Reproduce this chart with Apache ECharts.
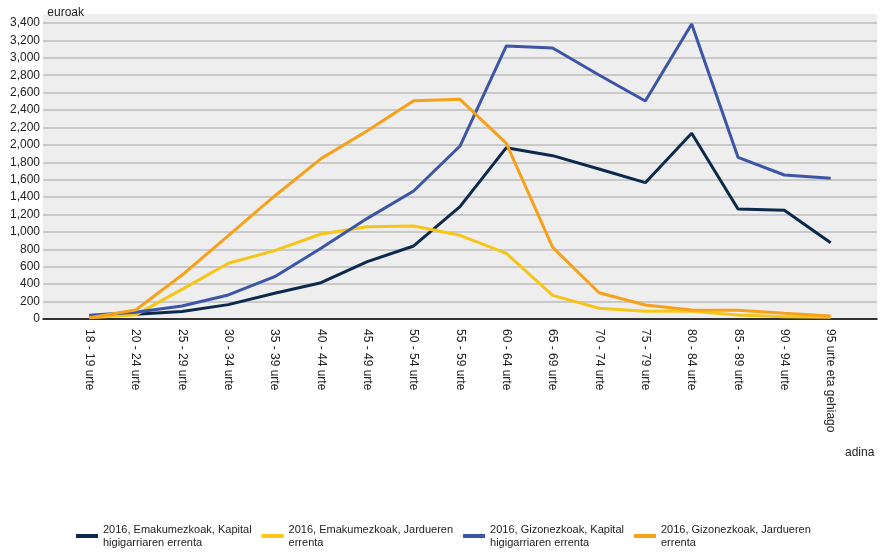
<!DOCTYPE html>
<html>
<head>
<meta charset="utf-8">
<script src="https://cdn.jsdelivr.net/npm/echarts@6/dist/echarts.min.js"></script>
<style>
  html, body { margin: 0; padding: 0; background: #fff; }
  #chart { width: 887px; height: 553px; }
</style>
</head>
<body>
<div id="chart"></div>
<script>
// adin taldeak
const categories = [
  '18 - 19 urte', '20 - 24 urte', '25 - 29 urte', '30 - 34 urte', '35 - 39 urte',
  '40 - 44 urte', '45 - 49 urte', '50 - 54 urte', '55 - 59 urte', '60 - 64 urte',
  '65 - 69 urte', '70 - 74 urte', '75 - 79 urte', '80 - 84 urte', '85 - 89 urte',
  '90 - 94 urte', '95 urte eta gehiago'
]

const seriesNames = [
  '2016, Emakumezkoak, Kapital\nhigigarriaren errenta',
  '2016, Emakumezkoak, Jardueren\nerrenta',
  '2016, Gizonezkoak, Kapital\nhigigarriaren errenta',
  '2016, Gizonezkoak, Jardueren\nerrenta'
]

const emakumeKapital = [30, 55, 85, 165, 295, 417, 659, 839, 1290, 1968, 1876, 1723, 1566, 2133, 1264, 1248, 877]
const emakumeJarduera = [15, 48, 340, 640, 785, 976, 1060, 1068, 961, 754, 272, 123, 88, 88, 46, 27, 19]
const gizonKapital = [42, 77, 149, 276, 486, 812, 1156, 1470, 1987, 3136, 3113, 2803, 2504, 3389, 1857, 1654, 1616]
const gizonJarduera = [15, 103, 505, 957, 1413, 1842, 2163, 2508, 2523, 2018, 823, 302, 161, 103, 100, 65, 34]

const colors = ['#0d2a4d', '#f5c518', '#3c56a5', '#f7a11a']

const yTicks = { min: 0, max: 3400, interval: 200 }

const font = 'Liberation Sans, Arial, sans-serif'

function toPoints(values) {
  return values.map((v, i) => [i, v])
}

const chart = echarts.init(document.getElementById('chart'), null, { renderer: 'canvas' })

const allValues = [emakumeKapital, emakumeJarduera, gizonKapital, gizonJarduera]

chart.setOption({
  animation: false,
  color: colors,
  textStyle: { fontFamily: font },
  graphic: [
    {
      type: 'rect',
      z: -10,
      shape: { x: 43, y: 14, width: 834, height: 305 },
      style: { fill: '#eeeeee' }
    },
    {
      type: 'text',
      left: 845,
      top: 447,
      style: { text: 'adina', fontSize: 12, fontFamily: font, fill: '#222' }
    }
  ],
  grid: { left: 43, right: 10, top: 23, bottom: 234 },
  legend: {
    left: 71,
    top: 518,
    itemWidth: 22,
    itemHeight: 4,
    itemGap: 10,
    icon: 'rect',
    textStyle: { fontSize: 11, lineHeight: 13, color: '#222', fontFamily: font },
    data: seriesNames
  },
  xAxis: {
    type: 'value',
    min: -1,
    max: categories.length,
    interval: 1,
    axisLine: { show: true, onZero: false, lineStyle: { color: '#000', width: 1.5 } },
    axisTick: { show: false },
    splitLine: { show: false },
    axisLabel: {
      rotate: -90,
      margin: 10,
      fontSize: 12,
      color: '#222',
      showMinLabel: true,
      showMaxLabel: true,
      formatter: v => categories[v] || ''
    }
  },
  yAxis: {
    type: 'value',
    min: yTicks.min,
    max: yTicks.max,
    interval: yTicks.interval,
    name: 'euroak',
    nameLocation: 'end',
    nameGap: 4,
    nameTextStyle: { align: 'left', padding: [0, 0, 0, -42], fontSize: 12, color: '#222' },
    axisLine: { show: false },
    axisTick: { show: false },
    axisLabel: {
      margin: 3,
      fontSize: 12,
      color: '#222',
      formatter: v => v.toLocaleString('en-US')
    },
    splitLine: { lineStyle: { color: '#bdbdbd', width: 1.5 } }
  },
  series: allValues.map((values, i) => ({
    name: seriesNames[i],
    type: 'line',
    data: toPoints(values),
    showSymbol: false,
    symbol: 'none',
    lineStyle: { width: 3, color: colors[i] },
    z: 2 + i
  }))
})
</script>
</body>
</html>
